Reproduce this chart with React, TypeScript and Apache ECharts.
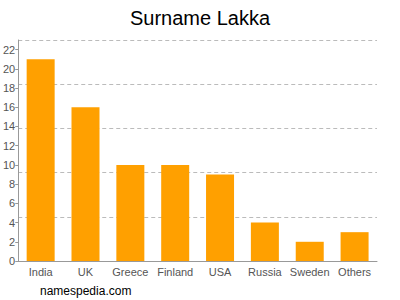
import React, { useEffect, useRef } from "react";
import * as echarts from "echarts";

const categories = ["India", "UK", "Greece", "Finland", "USA", "Russia", "Sweden", "Others"];
const values = [21, 16, 10, 10, 9, 4, 2, 3];
const titleText = "Surname Lakka";
const footerText = "namespedia.com";

export default function App() {
  const ref = useRef<HTMLDivElement>(null);
  useEffect(() => {
    const chart = echarts.init(ref.current!, null, { renderer: "svg" });
    chart.setOption({
      animation: false,
      backgroundColor: "#ffffff",
      title: {
        text: titleText,
        left: "center",
        top: 3,
        textStyle: { fontFamily: "Liberation Sans", fontSize: 20, fontWeight: "normal", color: "#000" },
      },
      graphic: [
        {
          type: "text",
          left: 40,
          top: 285,
          style: { text: footerText, font: "12px 'Liberation Sans'", fill: "#000" },
        },
      ],
      grid: { left: 17, right: 23, top: 40, bottom: 39, containLabel: false },
      xAxis: {
        type: "category",
        data: categories,
        axisLine: { lineStyle: { color: "#999" } },
        axisTick: { show: false },
        axisLabel: { color: "#555", fontFamily: "Liberation Sans", fontSize: 11, margin: 5, interval: 0 },
      },
      yAxis: [
        {
          type: "value",
          min: 0,
          max: 23,
          interval: 2,
          axisLine: { show: true, lineStyle: { color: "#999" } },
          axisTick: { show: true, length: 3, lineStyle: { color: "#999" } },
          axisLabel: { color: "#555", fontFamily: "Liberation Sans", fontSize: 11, margin: 3, showMaxLabel: false },
          splitLine: { show: false },
        },
        {
          type: "value",
          min: 0,
          max: 23,
          interval: 4.6,
          position: "left",
          axisLine: { show: false },
          axisTick: { show: false },
          axisLabel: { show: false },
          splitLine: { show: true, lineStyle: { color: "#bbb", type: [4, 3], width: 1 } },
        },
      ],
      series: [
        {
          type: "bar",
          data: values,
          barWidth: 28,
          itemStyle: { color: "#ffa000" },
          yAxisIndex: 0,
        },
      ],
    });
    return () => chart.dispose();
  }, []);
  return <div ref={ref} style={{ width: 400, height: 300, position: "absolute", left: 0, top: 0 }} />;
}
